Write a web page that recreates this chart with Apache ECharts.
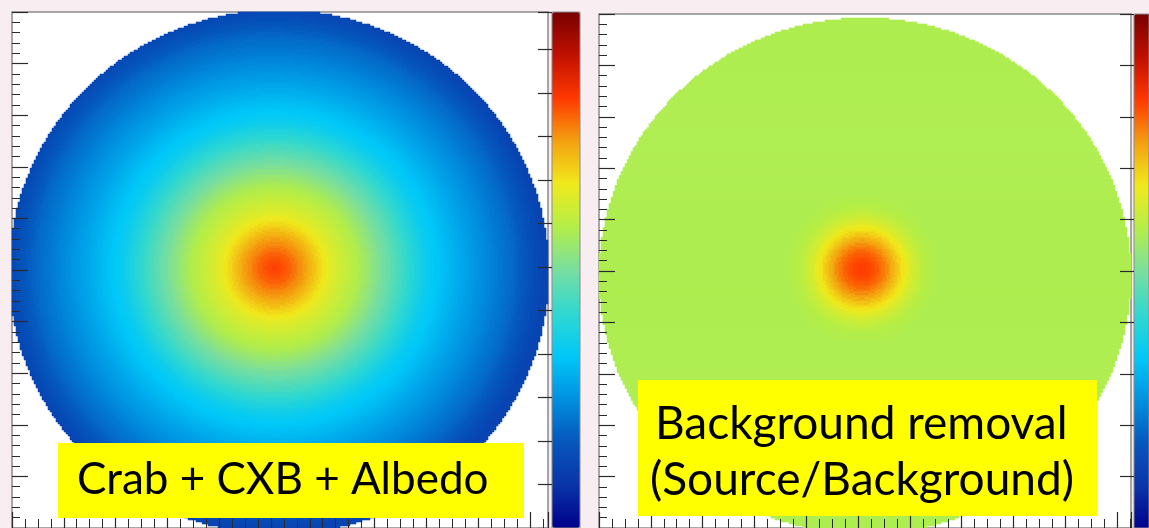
<!DOCTYPE html>
<html>
<head>
<meta charset="utf-8">
<script src="https://cdn.jsdelivr.net/npm/echarts@6/dist/echarts.min.js"></script>
<style>
  html, body { margin: 0; padding: 0; background: #f8eef1; }
  #chart { width: 1149px; height: 528px; }
</style>
</head>
<body>
<div id="chart"></div>
<script>
// Counts per ring around the source position, innermost first (80 equal-width rings)
const crabCxbAlbedoProfile = [
  4902, 4862, 4822, 4782, 4740, 4673, 4607, 4540, 4473, 4398,
  4317, 4236, 4156, 4075, 3994, 3913, 3832, 3780, 3729, 3680,
  3629, 3579, 3529, 3479, 3429, 3379, 3314, 3250, 3185, 3120,
  3055, 2990, 2926, 2861, 2796, 2731, 2665, 2598, 2531, 2465,
  2398, 2331, 2264, 2198, 2131, 2069, 2031, 1993, 1955, 1917,
  1878, 1840, 1802, 1764, 1726, 1688, 1650, 1612, 1576, 1541,
  1506, 1471, 1436, 1401, 1366, 1331, 1296, 1261, 1226, 1191,
  1150, 1110, 1065, 1020, 975, 930, 880, 830, 780, 730
];
// Source / background ratio per ring around the source position (80 rings)
const sourceOverBackgroundProfile = [
  4.14, 4.13, 4.11, 4.08, 4.03, 3.98, 3.91, 3.83, 3.74, 3.65,
  3.55, 3.45, 3.36, 3.28, 3.19, 3.12, 3.06, 3.01, 2.96, 2.94,
  2.91, 2.90, 2.89, 2.88, 2.88, 2.88, 2.88, 2.88, 2.88, 2.88,
  2.88, 2.88, 2.88, 2.88, 2.88, 2.88, 2.88, 2.88, 2.88, 2.88,
  2.88, 2.88, 2.88, 2.88, 2.88, 2.88, 2.88, 2.88, 2.88, 2.88,
  2.88, 2.88, 2.88, 2.88, 2.88, 2.88, 2.88, 2.88, 2.88, 2.88,
  2.88, 2.88, 2.88, 2.88, 2.88, 2.88, 2.88, 2.88, 2.88, 2.88,
  2.88, 2.88, 2.88, 2.88, 2.88, 2.88, 2.88, 2.88, 2.88, 2.88
];
// Colour-scale ranges and tick steps
const leftScale = { min: 0, max: 5930, step: 500 };
const rightScale = { min: 0, max: 5, step: 0.5 };
// Panel captions
const leftCaption = ['Crab + CXB + Albedo'];
const rightCaption = ['Background removal', '(Source/Background)'];

// ROOT-style rainbow palette, bottom to top of the colour bar
const palette = ['#00008a', '#0a34a8', '#0656bc', '#0090e0', '#00c8f8', '#30d8d0',
  '#78dea0', '#b4ee48', '#f0ea1c', '#f4a010', '#ff3800', '#c01000', '#780000'];

const CELL = 2; // pixel size of one detector cell

// Builds heatmap cells of a circular detector: the disk (centre, radii) masks the
// cells, and each cell takes the profile ring of its distance from the source spot
function buildCells(profile, nx, ny, disk, spot) {
  const cells = [];
  const n = profile.length;
  for (let i = 0; i < nx; i++) {
    for (let j = 0; j < ny; j++) {
      const px = (i + 0.5) * CELL, py = (ny - j - 0.5) * CELL;
      const dx = (px - disk.x) / disk.rx, dy = (py - disk.y) / disk.ry;
      if (dx * dx + dy * dy >= 1) continue;
      const sx = (px - spot.x) / disk.rx, sy = (py - spot.y) / disk.ry;
      const k = Math.min(n - 1, Math.floor(Math.sqrt(sx * sx + sy * sy) * n));
      cells.push([i, j, profile[k]]);
    }
  }
  return cells;
}

const L = { left: 12, top: 12, width: 536, height: 516 };
const R = { left: 599, top: 14, width: 532, height: 516 };
const lnx = L.width / CELL, lny = L.height / CELL;
const rnx = R.width / CELL, rny = R.height / CELL;

// Disk and source-spot geometry in pixels relative to each plot frame
const leftCells = buildCells(crabCxbAlbedoProfile, lnx, lny,
  { x: 267, y: 260, rx: 270, ry: 262 }, { x: 263, y: 256 });
const rightCells = buildCells(sourceOverBackgroundProfile, rnx, rny,
  { x: 266, y: 263, rx: 266, ry: 259 }, { x: 263, y: 256 });

const idx = n => Array.from({ length: n }, (_, k) => k);
const tickColor = '#2a2a2a';
const frameColor = '#8a8a8a';

function catAxis(grid, n, pos) {
  return { type: 'category', gridIndex: grid, data: idx(n), position: pos, show: false };
}
function tickAxisX(grid, max) {
  return {
    type: 'value', gridIndex: grid, position: 'bottom', min: 0, max: max, interval: 1, z: 10,
    axisLine: { show: false, onZero: false },
    axisLabel: { show: false }, splitLine: { show: false },
    axisTick: { inside: true, length: 16, lineStyle: { color: tickColor, width: 1.2 } },
    minorTick: { show: true, splitNumber: 4, length: 9, lineStyle: { color: tickColor, width: 1 } }
  };
}
function tickAxisY(grid, max) {
  return {
    type: 'value', gridIndex: grid, position: 'left', min: 0, max: max, interval: 1, z: 10,
    axisLine: { show: false, onZero: false },
    axisLabel: { show: false }, splitLine: { show: false },
    axisTick: { inside: true, length: 16, lineStyle: { color: tickColor, width: 1.2 } },
    minorTick: { show: true, splitNumber: 5, length: 8, lineStyle: { color: tickColor, width: 1 } }
  };
}
function barAxisY(grid, scale) {
  return {
    type: 'value', gridIndex: grid, position: 'right', min: scale.min, max: scale.max,
    interval: scale.step, z: 10,
    axisLine: { show: false }, axisLabel: { show: false }, splitLine: { show: false },
    axisTick: { inside: true, length: 14, lineStyle: { color: tickColor, width: 1.2 } }
  };
}

const chart = echarts.init(document.getElementById('chart'), null, { renderer: 'canvas' });
chart.setOption({
  animation: false,
  backgroundColor: '#f8eef1',
  grid: [
    Object.assign({ show: true, backgroundColor: '#ffffff', borderColor: frameColor, borderWidth: 1.5 }, L),
    Object.assign({ show: true, backgroundColor: '#ffffff', borderColor: frameColor, borderWidth: 1.5 }, R),
    { left: 552, top: 12, width: 28, height: 516, show: true, z: 6, backgroundColor: 'transparent', borderColor: frameColor, borderWidth: 1 },
    { left: 1134, top: 14, width: 28, height: 516, show: true, z: 6, backgroundColor: 'transparent', borderColor: frameColor, borderWidth: 1 }
  ],
  xAxis: [
    catAxis(0, lnx, 'top'), tickAxisX(0, 10.35),
    catAxis(1, rnx, 'top'), tickAxisX(1, 10.27),
    { type: 'value', gridIndex: 2, show: false }, { type: 'value', gridIndex: 3, show: false }
  ],
  yAxis: [
    catAxis(0, lny, 'right'), tickAxisY(0, 10),
    catAxis(1, rny, 'right'), tickAxisY(1, 10),
    barAxisY(2, leftScale), barAxisY(3, rightScale)
  ],
  visualMap: [
    {
      type: 'continuous', seriesIndex: 0, min: leftScale.min, max: leftScale.max,
      left: 552, top: 12, itemWidth: 28, itemHeight: 516, padding: 0,
      calculable: false, hoverLink: false, text: null, showLabel: false, z: 4,
      inRange: { color: palette }
    },
    {
      type: 'continuous', seriesIndex: 1, min: rightScale.min, max: rightScale.max,
      left: 1134, top: 14, itemWidth: 28, itemHeight: 516, padding: 0,
      calculable: false, hoverLink: false, text: null, showLabel: false, z: 4,
      inRange: { color: palette }
    }
  ],
  series: [
    {
      type: 'heatmap', xAxisIndex: 0, yAxisIndex: 0, data: leftCells,
      progressive: 0, emphasis: { disabled: true }, itemStyle: { borderWidth: 0 }
    },
    {
      type: 'heatmap', xAxisIndex: 2, yAxisIndex: 2, data: rightCells,
      progressive: 0, emphasis: { disabled: true }, itemStyle: { borderWidth: 0 }
    }
  ],
  graphic: [
    { type: 'rect', z: 20, shape: { x: 58, y: 443, width: 466, height: 75 }, style: { fill: '#ffff00' } },
    { type: 'text', z: 21, x: 77, y: 480, style: { text: leftCaption[0], font: '44px Lato', fill: '#000', verticalAlign: 'middle' } },
    { type: 'rect', z: 20, shape: { x: 638, y: 380, width: 459, height: 136 }, style: { fill: '#ffff00' } },
    { type: 'text', z: 21, x: 655, y: 424, style: { text: rightCaption[0], font: '46px Lato', fill: '#000', verticalAlign: 'middle' } },
    { type: 'text', z: 21, x: 650, y: 480, style: { text: rightCaption[1], font: '46px Lato', fill: '#000', verticalAlign: 'middle' } }
  ]
});
</script>
</body>
</html>
